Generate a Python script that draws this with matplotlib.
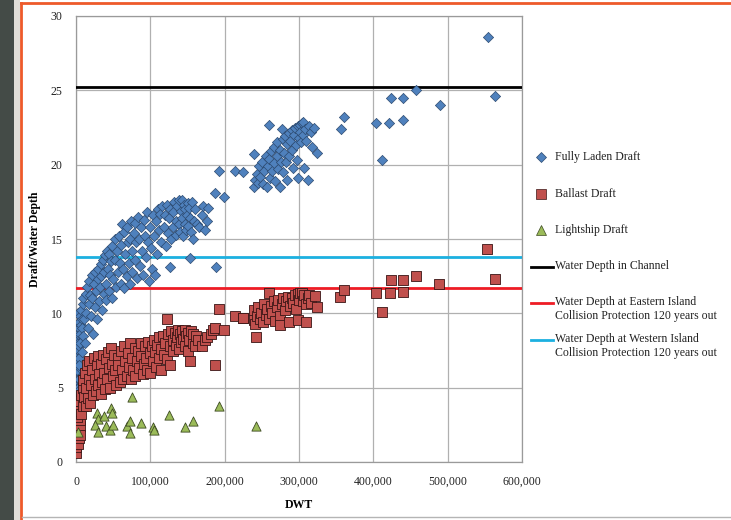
import numpy as np
import matplotlib
matplotlib.use("Agg")
import matplotlib.pyplot as plt
from matplotlib.lines import Line2D
from matplotlib.patches import Rectangle
from matplotlib.ticker import FuncFormatter

plt.rcParams['font.family'] = ['Liberation Serif', 'DejaVu Serif']

# (DWT in thousands, draft in m)
laden_pts = [
    (0.3, 4.0), (0.5, 4.6), (0.8, 5.2), (1.0, 5.8), (1.2, 6.5), (1.5, 7.0), (0.6, 5.5), (0.5, 7.0),
    (1.0, 8.2), (1.5, 9.2), (2.5, 10.0), (1.2, 4.8), (2.0, 5.5), (2.0, 7.6), (2.5, 8.0), (1.8, 6.2),
    (3.0, 8.6), (3.5, 9.0), (2.2, 5.0), (3.0, 5.6), (4.0, 9.4), (4.5, 7.0), (5.0, 9.8), (5.5, 6.3),
    (3.5, 6.5), (4.0, 7.8), (5.5, 8.6), (6.5, 9.2), (8.5, 9.6), (3.0, 4.8), (4.5, 5.6),
    (6, 8.0), (7, 10.2), (7.5, 9.0), (8, 7.4), (9, 10.6), (9.5, 8.5), (10, 11.0), (11, 9.6),
    (12, 8.0), (13, 11.3), (14, 10.0), (15, 11.8), (16, 9.0), (17, 10.6), (18, 12.2), (19, 11.2),
    (20, 9.8), (21, 12.6), (22, 11.0), (23, 8.6), (24, 12.0), (25, 10.4), (26, 12.8), (27, 11.5),
    (28, 9.6), (29, 12.3), (30, 13.0), (31, 10.8), (32, 11.8), (33, 13.3), (34, 12.5), (35, 10.2),
    (36, 13.6), (37, 11.3), (38, 12.8), (39, 13.9), (40, 12.0), (41, 10.9), (42, 14.2), (43, 13.0),
    (44, 11.5), (45, 14.0), (46, 12.6), (47, 13.5), (48, 11.0), (49, 14.5), (50, 12.3), (52, 13.6),
    (53, 15.0), (54, 11.8), (55, 14.2), (56, 12.8), (58, 15.2), (59, 13.4), (60, 12.0), (61, 14.6),
    (62, 16.0), (63, 13.0), (64, 15.5), (65, 11.7), (66, 14.0), (68, 15.8), (69, 12.5), (70, 14.8),
    (71, 13.4), (72, 15.0), (73, 12.0), (74, 16.2), (75, 14.2), (76, 12.8), (78, 15.4), (79, 13.6),
    (80, 16.1), (81, 14.8), (82, 12.4), (84, 16.5), (85, 15.0), (86, 13.2), (88, 15.8), (89, 14.2),
    (90, 12.6), (92, 16.3), (93, 15.2), (94, 13.8), (96, 16.8), (97, 14.8), (98, 12.2), (100, 15.8),
    (101, 14.4), (102, 13.0), (104, 16.6), (105, 15.2), (106, 12.6), (108, 16.2), (109, 14.0), (110, 17.0),
    (112, 15.6), (113, 16.7), (115, 14.8), (116, 17.2), (118, 15.8), (120, 16.6), (121, 14.5), (122, 17.3),
    (124, 15.4), (125, 16.4), (126, 13.1), (127, 17.0), (128, 15.0), (130, 16.8), (131, 15.8), (132, 17.5),
    (134, 16.2), (135, 15.3), (136, 17.2), (138, 16.0), (139, 17.6), (140, 15.5), (141, 16.9), (142, 17.6),
    (143, 16.4), (144, 15.2), (145, 17.3), (146, 16.0), (147, 17.0), (148, 15.6), (149, 16.6), (150, 17.4),
    (151, 15.9), (152, 17.1), (153, 13.7), (154, 16.4), (155, 15.5), (156, 17.5), (158, 15.0), (159, 16.2),
    (160, 17.0), (163, 16.0), (166, 15.8), (169, 16.6), (171, 17.2), (174, 15.6), (176, 16.2), (178, 17.1),
    (187, 18.1), (188, 13.1), (192, 19.6), (199, 17.8), (214, 19.6), (224, 19.5),
    (239, 18.5), (239, 20.7), (241, 19.0), (243, 19.4), (245, 18.8), (246, 19.9), (248, 19.2), (250, 20.2),
    (251, 18.7), (253, 19.6), (255, 20.6), (257, 18.5), (258, 19.9), (259, 22.7), (260, 20.4), (261, 19.1),
    (263, 20.9), (264, 19.6), (266, 21.2), (267, 20.1), (268, 18.9), (270, 20.6), (271, 21.5), (272, 19.7),
    (274, 18.5), (275, 21.0), (276, 20.2), (277, 22.4), (278, 21.7), (279, 19.5), (280, 20.8), (281, 21.9),
    (282, 20.2), (284, 19.0), (284, 21.4), (286, 22.1), (287, 20.6), (288, 21.6), (290, 22.3), (291, 21.0),
    (292, 19.8), (293, 22.0), (295, 22.5), (296, 21.3), (297, 20.3), (298, 22.6), (299, 19.1), (300, 21.8),
    (301, 22.7), (302, 22.2), (303, 21.5), (304, 22.8), (305, 22.0), (306, 22.9), (307, 19.8), (308, 22.4),
    (310, 21.6), (312, 19.0), (314, 22.6), (316, 22.2), (318, 21.2), (320, 22.5), (324, 20.8),
    (356, 22.4), (360, 23.2), (403, 22.8), (412, 20.3), (421, 22.8), (424, 24.5), (440, 24.5), (440, 23.0),
    (457, 25.0), (490, 24.0), (554, 28.6), (564, 24.6),
]

ballast_pts = [
    (0.3, 0.6), (0.5, 1.0), (0.7, 1.4), (1.0, 1.8), (1.2, 2.2), (1.5, 2.6), (2.0, 3.0), (2.5, 3.3),
    (3.0, 1.2), (3.5, 1.6), (4.0, 2.0), (5.0, 2.4), (5.5, 1.8), (6.0, 2.8), (0.8, 3.0), (1.5, 3.5),
    (3.0, 3.8), (5.0, 4.1), (4.5, 3.4), (7, 4.5), (7, 3.2), (9, 5.0), (9, 3.8), (10, 5.5),
    (11, 4.4), (12, 6.0), (13, 3.8), (14, 5.0), (15, 6.5), (16, 4.3), (17, 5.6), (18, 6.8),
    (19, 4.0), (20, 5.2), (22, 6.2), (23, 4.5), (24, 7.0), (25, 5.6), (27, 4.8), (28, 6.5),
    (29, 5.2), (30, 7.1), (31, 5.9), (33, 4.6), (34, 6.6), (35, 5.4), (36, 7.2), (38, 6.0),
    (39, 4.9), (40, 6.9), (42, 5.6), (43, 7.4), (44, 6.3), (46, 5.0), (47, 7.7), (48, 6.6),
    (50, 5.8), (51, 7.2), (53, 6.2), (54, 5.2), (56, 7.0), (57, 6.5), (59, 5.4), (60, 7.5),
    (62, 6.2), (63, 5.6), (65, 7.8), (66, 6.8), (68, 5.8), (70, 7.3), (71, 6.4), (73, 8.0),
    (74, 5.6), (76, 7.0), (77, 6.2), (79, 7.7), (80, 5.8), (82, 6.8), (83, 7.5), (85, 6.3),
    (87, 8.0), (88, 7.1), (90, 5.9), (91, 6.6), (93, 7.8), (94, 7.0), (96, 6.2), (97, 8.1),
    (99, 7.3), (100, 6.0), (102, 7.8), (103, 6.8), (105, 8.2), (106, 7.4), (108, 6.4), (109, 7.9),
    (111, 7.0), (112, 8.4), (114, 6.2), (115, 7.6), (117, 8.5), (118, 7.2), (120, 8.0), (122, 6.9),
    (123, 9.6), (124, 8.6), (126, 6.5), (127, 7.8), (128, 8.8), (130, 8.2), (131, 7.5), (133, 8.7),
    (134, 7.9), (136, 8.4), (137, 8.9), (139, 7.6), (140, 8.6), (141, 8.1), (143, 8.8), (144, 8.3),
    (146, 7.8), (147, 8.9), (148, 8.5), (150, 7.5), (151, 8.7), (152, 8.2), (154, 6.8), (155, 8.8),
    (157, 8.0), (158, 8.6), (160, 7.8), (162, 8.5), (164, 8.2), (170, 7.8), (174, 8.2), (176, 8.4),
    (182, 8.6), (184, 8.9), (187, 6.5), (187, 9.0), (192, 10.3), (199, 8.9), (214, 9.8), (224, 9.7),
    (225, 9.7), (239, 9.55), (240, 10.2), (241, 9.3), (242, 8.4), (243, 9.8), (245, 10.4), (247, 9.6),
    (249, 10.0), (251, 9.4), (253, 10.6), (255, 9.9), (257, 10.3), (259, 11.35), (260, 9.6), (262, 10.5),
    (264, 10.0), (266, 10.8), (268, 9.5), (270, 10.4), (272, 10.9), (274, 9.8), (275, 9.2), (277, 10.6),
    (279, 11.0), (281, 10.2), (283, 10.8), (285, 11.1), (286, 9.4), (288, 10.5), (290, 11.0), (292, 10.7),
    (294, 11.2), (296, 10.3), (298, 11.3), (299, 9.55), (300, 10.9), (302, 11.4), (304, 11.35), (305, 10.8),
    (307, 11.2), (309, 10.6), (310, 9.44), (312, 11.0), (314, 11.2), (316, 10.7), (322, 11.17), (324, 10.4),
    (355, 11.1), (360, 11.6), (403, 11.4), (411, 10.1), (422, 11.4), (424, 12.25), (440, 12.25), (440, 11.45),
    (458, 12.5), (489, 12.0), (553, 14.3), (564, 12.3),
]

lightship_pts = [
    (3, 2.04), (75, 4.4), (47, 3.6), (48, 3.3), (28, 3.3), (30, 2.9), (37, 3.1), (26, 2.5),
    (30, 2.04), (40, 2.4), (46, 2.15), (50, 2.5), (68, 2.4), (73, 2.75), (73, 1.93), (88, 2.65),
    (103, 2.38), (105, 2.15), (125, 3.16), (147, 2.35), (158, 2.76), (192, 3.79), (242, 2.44),
]

channel_depth = 25.2
eastern_depth = 11.7
western_depth = 13.8

legend_labels = [
    'Fully Laden Draft', 'Ballast Draft', 'Lightship Draft', 'Water Depth in Channel',
    'Water Depth at Eastern Island\nCollision Protection 120 years out',
    'Water Depth at Western Island\nCollision Protection 120 years out',
]

W, H = 731, 520
fig = plt.figure(figsize=(W / 100, H / 100), dpi=100)
fig.patch.set_facecolor('white')

# page decoration around the chart
fig.patches.append(Rectangle((0, 0), 14 / W, 1, transform=fig.transFigure,
                             facecolor='#444b47', edgecolor='none'))
fig.patches.append(Rectangle((14 / W, 0), 6 / W, 1, transform=fig.transFigure,
                             facecolor='#e0ddd8', edgecolor='none'))
fig.add_artist(Line2D([21 / W, 21 / W], [0, 1 - 3 / H], color='#ee5a2a', lw=2))
fig.add_artist(Line2D([21 / W, 1], [1 - 3 / H, 1 - 3 / H], color='#ee5a2a', lw=2))
fig.add_artist(Line2D([22 / W, 1], [1 - 517 / H, 1 - 517 / H], color='#b5b5b5', lw=1))

ax = fig.add_axes([76 / W, 1 - 462 / H, 446 / W, 446 / H])

lx, ly = np.array(laden_pts).T
bx, by = np.array(ballast_pts).T
gx, gy = np.array(lightship_pts).T

blue = dict(marker='D', s=27, c='#4f81bd', edgecolors='#2c4a70', linewidths=0.5, zorder=4)
red = dict(marker='s', s=42, c='#c0504d', edgecolors='#3a1515', linewidths=0.6, zorder=5)
green = dict(marker='^', s=44, c='#9bbb59', edgecolors='#3d4a22', linewidths=0.6, zorder=6)

ax.scatter(lx * 1000, ly, **blue)
ax.scatter(bx * 1000, by, **red)
ax.scatter(gx * 1000, gy, **green)

ax.axhline(channel_depth, color='black', lw=2, zorder=3)
ax.axhline(eastern_depth, color='#ee1c25', lw=2, zorder=3)
ax.axhline(western_depth, color='#1cb0e0', lw=2, zorder=3)

ax.set_xlim(0, 600000)
ax.set_ylim(0, 30)
ax.set_xticks(np.arange(0, 600001, 100000))
ax.set_yticks(np.arange(0, 31, 5))
ax.xaxis.set_major_formatter(FuncFormatter(lambda v, p: '{:,.0f}'.format(v)))
ax.grid(True, color='#b0b0b0', lw=0.9)
ax.set_axisbelow(True)
for s in ax.spines.values():
    s.set_color('#9a9a9a')
    s.set_linewidth(0.9)
ax.tick_params(length=0, labelsize=8.5, colors='#222222')
ax.tick_params(axis='x', pad=10)
ax.tick_params(axis='y', pad=9.5)
ax.set_xlabel('DWT', fontsize=8.5, fontweight='bold', labelpad=8)
ax.set_ylabel('Draft/Water Depth', fontsize=8.5, fontweight='bold', labelpad=7)

# legend drawn by hand so the handles sit on the first line like the original
handles = [('D', blue), ('s', red), ('^', green), ('line', 'black'),
           ('line', '#ee1c25'), ('line', '#1cb0e0')]
rows = [157, 194, 230, 266.5, 303, 340]
for (kind, st), label, y in zip(handles, legend_labels, rows):
    if kind == 'line':
        fig.add_artist(Line2D([531 / W, 553 / W], [1 - y / H] * 2, color=st, lw=2))
    else:
        fig.add_artist(Line2D([541 / W], [1 - y / H], marker=kind, ls='none',
                              markersize=5.5 if kind == 'D' else 6.5,
                              markerfacecolor=st['c'], markeredgecolor=st['edgecolors'],
                              markeredgewidth=0.5))
    if '\n' in label:
        fig.text(555 / W, 1 - (y - 7) / H, label, fontsize=8.5, va='top', ha='left',
                 color='#222222', linespacing=1.25)
    else:
        fig.text(555 / W, 1 - y / H, label, fontsize=8.5, va='center', ha='left',
                 color='#222222')

fig.savefig('out.png', dpi=100)
